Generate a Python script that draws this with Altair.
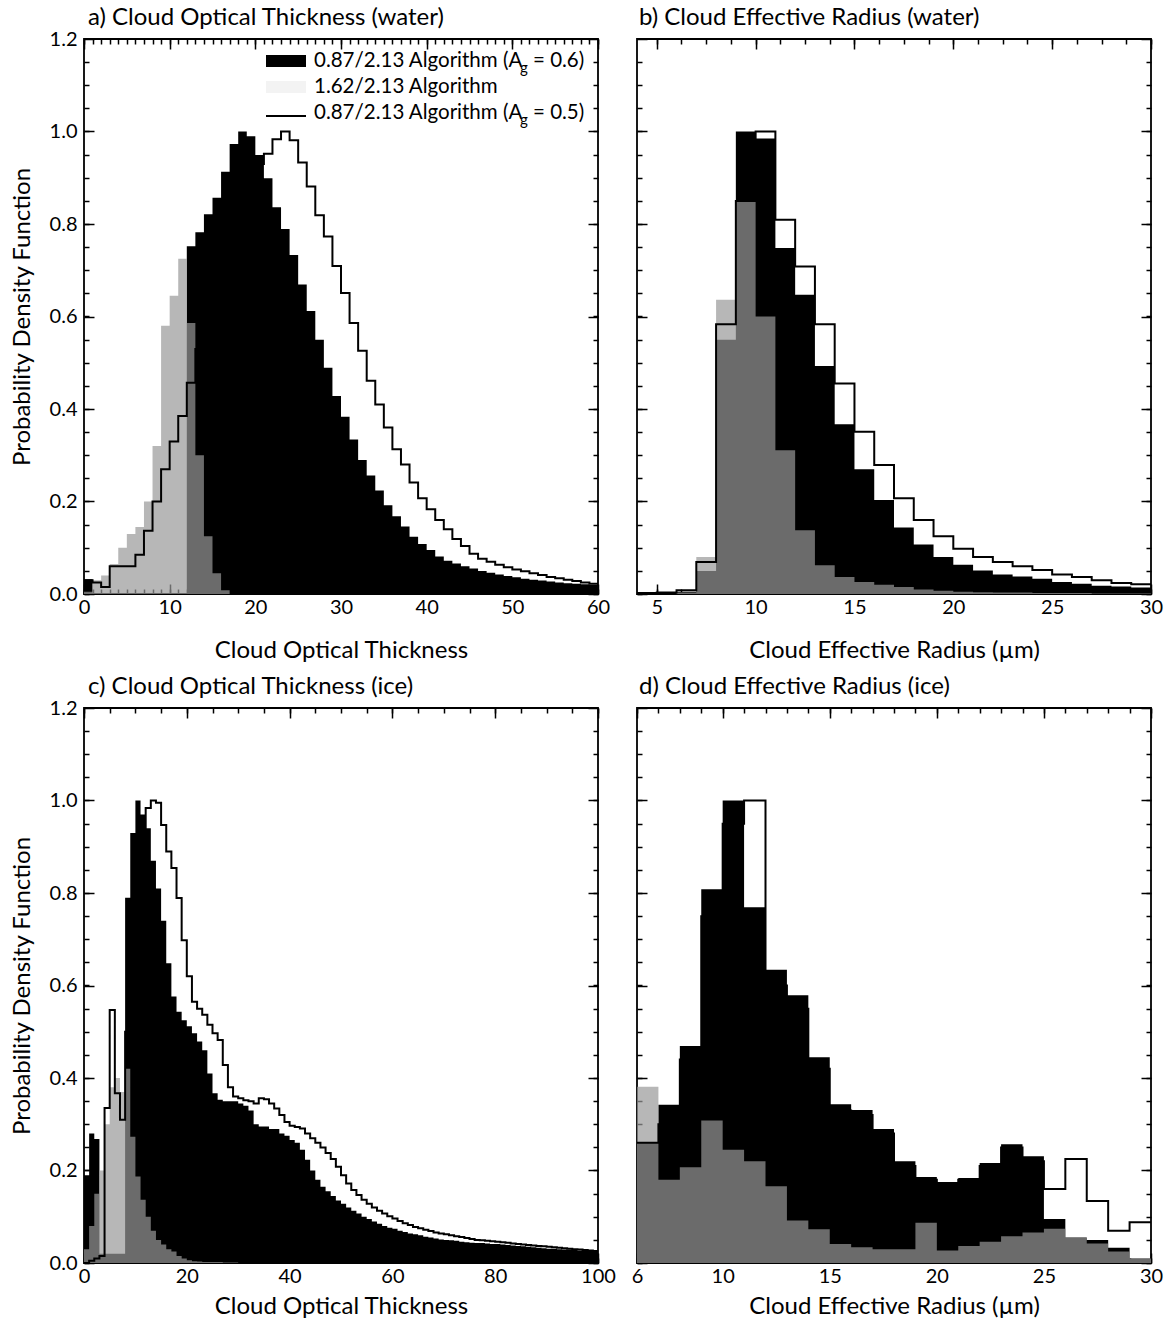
import altair as alt
import pandas as pd

FONT = "Lato"
GRAY = "#999999"

# ---------------- data (PDF values per unit-wide bin) ----------------
# a) optical thickness, water: bins start at 0, width 1, 60 bins
a_start = 0
a_black = [0.032, 0, 0, 0, 0, 0, 0, 0, 0, 0,
           0, 0, 0.752, 0.782, 0.821, 0.857, 0.913, 0.973, 1.0, 0.99,
           0.949, 0.899, 0.836, 0.789, 0.733, 0.669, 0.612, 0.55, 0.489, 0.428,
           0.383, 0.334, 0.29, 0.256, 0.224, 0.192, 0.168, 0.146, 0.124, 0.108,
           0.095, 0.081, 0.072, 0.066, 0.06, 0.055, 0.05, 0.046, 0.042, 0.039,
           0.036, 0.033, 0.031, 0.029, 0.027, 0.025, 0.023, 0.022, 0.021, 0.02]
a_gray = [0.005, 0.03, 0.04, 0.065, 0.1, 0.13, 0.145, 0.2, 0.32, 0.58,
          0.645, 0.725, 0.586, 0.3, 0.125, 0.045, 0.008, 0, 0, 0,
          0, 0, 0, 0, 0, 0, 0, 0, 0, 0,
          0, 0, 0, 0, 0, 0, 0, 0, 0, 0,
          0, 0, 0, 0, 0, 0, 0, 0, 0, 0,
          0, 0, 0, 0, 0, 0, 0, 0, 0, 0]
a_line = [0.03, 0.025, 0.015, 0.06, 0.06, 0.06, 0.085, 0.137, 0.2, 0.27,
          0.33, 0.385, 0.457, 0.53, 0.6, 0.67, 0.74, 0.8, 0.85, 0.89,
          0.93, 0.952, 0.983, 1.0, 0.981, 0.933, 0.881, 0.819, 0.773, 0.709,
          0.651, 0.586, 0.526, 0.461, 0.41, 0.36, 0.313, 0.28, 0.241, 0.207,
          0.183, 0.16, 0.14, 0.119, 0.104, 0.087, 0.076, 0.07, 0.063, 0.058,
          0.053, 0.049, 0.045, 0.041, 0.037, 0.034, 0.031, 0.028, 0.025, 0.022]

# b) effective radius, water: bins start at 4 um, width 1, 26 bins
b_start = 4
b_black = [0, 0, 0.005, 0.05, 0.55, 1.0, 0.985, 0.748, 0.647, 0.493,
           0.367, 0.27, 0.203, 0.144, 0.107, 0.08, 0.063, 0.051, 0.042, 0.038,
           0.033, 0.026, 0.022, 0.018, 0.016, 0.014]
b_gray = [0, 0, 0.003, 0.08, 0.636, 0.852, 0.6, 0.311, 0.138, 0.062,
          0.037, 0.026, 0.02, 0.015, 0.01, 0.007, 0.005, 0.004, 0.003, 0.003,
          0.002, 0.002, 0.002, 0.001, 0.001, 0.001]
b_line = [0.002, 0.003, 0.008, 0.069, 0.583, 0.85, 1.0, 0.809, 0.708, 0.583,
          0.455, 0.351, 0.279, 0.207, 0.16, 0.125, 0.098, 0.08, 0.069, 0.06,
          0.052, 0.042, 0.037, 0.03, 0.024, 0.021]

# c) optical thickness, ice: bins start at 0, width 1, 100 bins
c_start = 0
c_black = [0.19, 0.28, 0.268, 0.02, 0.02, 0.02, 0.02, 0.02, 0.79, 0.93,
           1.0, 0.97, 0.94, 0.87, 0.81, 0.74, 0.648, 0.576, 0.543, 0.525,
           0.512, 0.497, 0.479, 0.46, 0.41, 0.367, 0.353, 0.35, 0.35, 0.35,
           0.345, 0.34, 0.33, 0.3, 0.295, 0.295, 0.29, 0.29, 0.28, 0.275,
           0.266, 0.26, 0.245, 0.223, 0.2, 0.18, 0.165, 0.155, 0.145, 0.135,
           0.128, 0.12, 0.113, 0.107, 0.1, 0.095, 0.09, 0.085, 0.08, 0.076,
           0.074, 0.07, 0.067, 0.064, 0.062, 0.06, 0.057, 0.055, 0.053, 0.051,
           0.05, 0.049, 0.048, 0.046, 0.045, 0.044, 0.043, 0.043, 0.042, 0.041,
           0.041, 0.04, 0.039, 0.038, 0.037, 0.036, 0.035, 0.034, 0.033, 0.032,
           0.031, 0.031, 0.03, 0.029, 0.029, 0.028, 0.027, 0.027, 0.026, 0.025]
c_gray = [0.03, 0.08, 0.15, 0.2, 0.3, 0.38, 0.4, 0.37, 0.42, 0.273,
          0.187, 0.137, 0.1, 0.07, 0.05, 0.04, 0.03, 0.025, 0.015, 0.01,
          0.006, 0.004, 0.003, 0.002, 0.002, 0.002, 0.002, 0.001, 0.001, 0.001,
          0, 0, 0, 0, 0, 0, 0, 0, 0, 0,
          0, 0, 0, 0, 0, 0, 0, 0, 0, 0,
          0, 0, 0, 0, 0, 0, 0, 0, 0, 0,
          0, 0, 0, 0, 0, 0, 0, 0, 0, 0,
          0, 0, 0, 0, 0, 0, 0, 0, 0, 0,
          0, 0, 0, 0, 0, 0, 0, 0, 0, 0,
          0, 0, 0, 0, 0, 0, 0, 0, 0, 0]
c_line = [0.0, 0.005, 0.01, 0.015, 0.335, 0.547, 0.367, 0.31, 0.5, 0.7,
          0.85, 0.93, 0.984, 1.0, 0.995, 0.947, 0.89, 0.854, 0.789, 0.698,
          0.62, 0.565, 0.55, 0.537, 0.515, 0.497, 0.482, 0.428, 0.38, 0.36,
          0.356, 0.352, 0.35, 0.345, 0.356, 0.354, 0.345, 0.334, 0.32, 0.305,
          0.297, 0.294, 0.291, 0.28, 0.27, 0.26, 0.25, 0.238, 0.225, 0.208,
          0.19, 0.172, 0.158, 0.147, 0.137, 0.128, 0.12, 0.113, 0.107, 0.101,
          0.096, 0.091, 0.086, 0.082, 0.078, 0.075, 0.072, 0.069, 0.066, 0.064,
          0.062, 0.06, 0.058, 0.056, 0.054, 0.052, 0.05, 0.049, 0.048, 0.047,
          0.046, 0.045, 0.044, 0.042, 0.041, 0.04, 0.039, 0.038, 0.037, 0.036,
          0.035, 0.034, 0.033, 0.032, 0.031, 0.03, 0.029, 0.028, 0.027, 0.026]

# d) effective radius, ice: bins start at 6 um, width 1, 24 bins
d_start = 6
d_black = [0.26, 0.342, 0.469, 0.808, 1.0, 0.769, 0.634, 0.579, 0.445, 0.343,
           0.331, 0.29, 0.22, 0.186, 0.175, 0.184, 0.216, 0.257, 0.231, 0.095,
           0.055, 0.05, 0.033, 0.01]
d_gray = [0.381, 0.18, 0.207, 0.308, 0.245, 0.22, 0.166, 0.092, 0.073, 0.041,
          0.034, 0.03, 0.03, 0.087, 0.027, 0.037, 0.046, 0.058, 0.066, 0.074,
          0.055, 0.042, 0.025, 0.01]
d_line = [0.26, 0.3, 0.44, 0.75, 0.95, 1.0, 0.6, 0.55, 0.42, 0.33,
          0.32, 0.28, 0.21, 0.18, 0.17, 0.18, 0.21, 0.25, 0.22, 0.16,
          0.225, 0.134, 0.07, 0.088]

# ticks / labels
y_major = [0, 0.2, 0.4, 0.6, 0.8, 1.0, 1.2]
y_minor = [i * 0.05 for i in range(25)]
a_major = [0, 10, 20, 30, 40, 50, 60]
a_minor = list(range(0, 61))
b_major = [5, 10, 15, 20, 25, 30]
b_minor = [5 + 1.25 * i for i in range(21)]
c_major = [0, 20, 40, 60, 80, 100]
c_minor = list(range(0, 101, 5))
d_major = [6, 10, 15, 20, 25, 30]
d_minor = list(range(6, 31))

legend_labels = ["0.87/2.13 Algorithm (A", "1.62/2.13 Algorithm", "0.87/2.13 Algorithm (A"]
legend_subs = ["g", "", "g"]
legend_tails = ["= 0.6)", "", "= 0.5)"]

W, H = 514, 555


def ax(orient, values, size, labels=False, **kw):
    return alt.Axis(orient=orient, values=values, tickSize=size, offset=-size,
                    labels=labels, domain=False, grid=False, ticks=True,
                    tickColor="black", tickWidth=1.5, labelFlush=False,
                    labelOverlap=False, labelBound=False,
                    labelFont=FONT, labelFontSize=20, labelColor="black",
                    titleFont=FONT, titleFontSize=24, titleColor="black",
                    titleFontWeight="normal", **kw)


def one(text=""):
    return alt.Chart(pd.DataFrame({"t": [text]}))


def legend_layers():
    out = []
    rows_y = [22, 48, 74]
    out.append(one().mark_rect(color="black").encode(
        x=alt.value(182), x2=alt.value(222), y=alt.value(16), y2=alt.value(28)))
    out.append(one().mark_rect(color=GRAY, opacity=0.12).encode(
        x=alt.value(182), x2=alt.value(222), y=alt.value(42), y2=alt.value(54)))
    out.append(one().mark_rule(color="black", strokeWidth=2).encode(
        x=alt.value(182), x2=alt.value(222), y=alt.value(77)))
    for lab, sub, tail, yy in zip(legend_labels, legend_subs, legend_tails, rows_y):
        out.append(one(lab).mark_text(align="left", baseline="middle", font=FONT,
                                      fontSize=20.5, color="black").encode(
            x=alt.value(230), y=alt.value(yy), text="t:N"))
        if sub:
            out.append(one(sub).mark_text(align="left", baseline="middle", font=FONT,
                                          fontSize=15, color="black").encode(
                x=alt.value(436), y=alt.value(yy + 7), text="t:N"))
            out.append(one(tail).mark_text(align="left", baseline="middle", font=FONT,
                                           fontSize=20.5, color="black").encode(
                x=alt.value(449), y=alt.value(yy), text="t:N"))
    return out


def panel(start, black, gray, line, xdom, xmaj, xmin, title, title_dx, title_off,
          xtitle, xtitle_pad, ylabels, legend=False):
    n = len(black)
    df = pd.DataFrame({
        "x": [start + i for i in range(n + 1)],
        "black": list(black) + [black[-1]],
        "gray": list(gray) + [gray[-1]],
        "line": list(line) + [line[-1]],
    })
    xs = alt.Scale(domain=xdom, nice=False, zero=False)
    ys = alt.Scale(domain=[0, 1.2], nice=False, zero=False)
    base = alt.Chart(df)
    layers = [
        base.mark_area(interpolate="step-after", color="black").encode(
            x=alt.X("x:Q", scale=xs, axis=None), y=alt.Y("black:Q", scale=ys, axis=None)),
        base.mark_area(interpolate="step-after", color=GRAY, opacity=0.7).encode(
            x=alt.X("x:Q", scale=xs, axis=None), y=alt.Y("gray:Q", scale=ys, axis=None)),
        base.mark_line(interpolate="step-after", color="black", strokeWidth=2).encode(
            x=alt.X("x:Q", scale=xs, axis=None), y=alt.Y("line:Q", scale=ys, axis=None)),
    ]
    left_kw = dict(format=".1f", labelPadding=7)
    if ylabels:
        left_kw["title"] = "Probability Density Function"
        left_kw["titlePadding"] = 15
    else:
        left_kw["title"] = None
    axes = [
        (ax("bottom", xmaj, 10, labels=True, format="d", labelPadding=3,
            title=xtitle, titlePadding=xtitle_pad),
         ax("left", y_major, 10, labels=ylabels, **left_kw)),
        (ax("top", xmaj, 10, title=None), ax("right", y_major, 10, title=None)),
        (ax("bottom", xmin, 5, title=None), ax("left", y_minor, 5, title=None)),
        (ax("top", xmin, 5, title=None), ax("right", y_minor, 5, title=None)),
    ]
    for xa, ya in axes:
        layers.append(base.mark_point(opacity=0, size=1).encode(
            x=alt.X("x:Q", scale=xs, axis=xa), y=alt.Y("black:Q", scale=ys, axis=ya)))
    if legend:
        layers += legend_layers()
    return alt.layer(*layers).properties(
        width=W, height=H,
        title=alt.TitleParams(title, anchor="start", frame="group", dx=title_dx,
                              offset=title_off, fontSize=24, font=FONT,
                              fontWeight="normal", color="black"),
    ).resolve_axis(x="independent", y="independent")


pa = panel(a_start, a_black, a_gray, a_line, [0, 60], a_major, a_minor,
           "a) Cloud Optical Thickness (water)", 4, -1, "Cloud Optical Thickness", 21, True,
           legend=True)
pb = panel(b_start, b_black, b_gray, b_line, [4, 30], b_major, b_minor,
           "b) Cloud Effective Radius (water)", 2, 8, "Cloud Effective Radius (µm)", 21, False)
pc = panel(c_start, c_black, c_gray, c_line, [0, 100], c_major, c_minor,
           "c) Cloud Optical Thickness (ice)", 4, -1, "Cloud Optical Thickness", 8, True)
pd_ = panel(d_start, d_black, d_gray, d_line, [6, 30], d_major, d_minor,
            "d) Cloud Effective Radius (ice)", 2, 8, "Cloud Effective Radius (µm)", 8, False)

row1 = alt.hconcat(pa, pb, spacing=21)
row2 = alt.hconcat(pc, pd_, spacing=13)
chart = alt.vconcat(row1, row2, spacing=11).properties(
    padding={"left": 9, "top": 5, "right": 0, "bottom": 0}
).configure_view(stroke="black", strokeWidth=1.8)

chart.save("out.html", embed_options={"renderer": "svg", "actions": False})
